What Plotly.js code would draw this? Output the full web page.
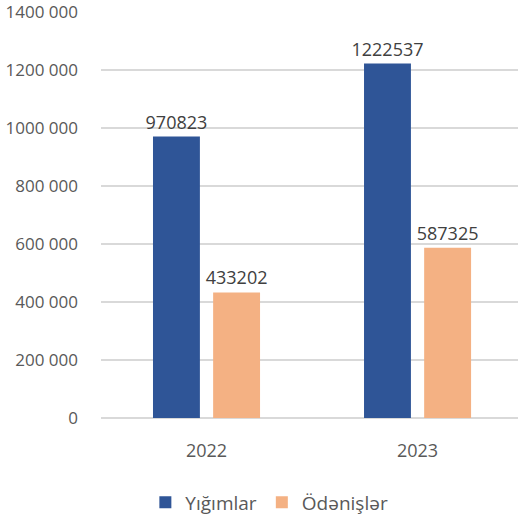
<!DOCTYPE html>
<html>
<head>
<meta charset="utf-8">
<script src="https://cdn.plot.ly/plotly-3.0.1.min.js"></script>
<style>
  html, body { margin: 0; padding: 0; background: #fff; }
  #plot { width: 518px; height: 518px; }
</style>
</head>
<body>
<div id="plot"></div>
<script>
// chart data
let years = ['2022', '2023'];
let yigimlar = [970823, 1222537];
let odenisler = [433202, 587325];
let tickVals = [0, 200000, 400000, 600000, 800000, 1000000, 1200000, 1400000];
let tickText = ['0', '200 000', '400 000', '600 000', '800 000', '1000 000', '1200 000', '1400 000'];

let plot = document.getElementById('plot');

let labelFont = {family: 'Open Sans, sans-serif', size: 18, color: '#404040'};

let yigimTrace = {
    x: years,
    y: yigimlar,
    type: 'bar',
    name: 'Yığımlar',
    marker: {color: '#2F5597'},
    text: yigimlar.map(String),
    textposition: 'outside',
    constraintext: 'none',
    textfont: labelFont,
    cliponaxis: false,
    hoverinfo: 'none'
};

let odenisTrace = {
    x: years,
    y: odenisler,
    type: 'bar',
    name: 'Ödənişlər',
    marker: {color: '#F4B183'},
    text: odenisler.map(String),
    textposition: 'outside',
    constraintext: 'none',
    textfont: labelFont,
    cliponaxis: false,
    hoverinfo: 'none'
};

let layout = {
    width: 518,
    height: 518,
    margin: {l: 101, r: 0, t: 12, b: 100},
    paper_bgcolor: '#ffffff',
    plot_bgcolor: '#ffffff',
    font: {family: 'Open Sans, sans-serif', size: 17, color: '#595959'},
    barmode: 'group',
    bargap: 0.43,
    bargroupgap: 0.22,
    showlegend: true,
    legend: {
        orientation: 'h',
        xref: 'container',
        yref: 'container',
        x: 0.52,
        y: 0.03,
        xanchor: 'center',
        yanchor: 'middle',
        font: {size: 19, color: '#595959'},
        itemwidth: 30
    },
    xaxis: {
        type: 'category',
        range: [-0.5, 1.476],
        showgrid: false,
        showline: false,
        zeroline: false,
        ticks: '',
        ticklabelstandoff: 20,
        tickfont: {size: 18, color: '#595959'}
    },
    yaxis: {
        range: [0, 1400400],
        tickmode: 'array',
        tickvals: tickVals,
        ticktext: tickText,
        showgrid: true,
        gridcolor: '#d9d9d9',
        gridwidth: 1.5,
        zeroline: true,
        zerolinecolor: '#d9d9d9',
        zerolinewidth: 2,
        showline: false,
        ticks: '',
        ticklabelstandoff: 22,
        tickfont: {size: 17, color: '#595959'}
    }
};

Plotly.newPlot(plot, [yigimTrace, odenisTrace], layout, {displayModeBar: false, staticPlot: true});
</script>
</body>
</html>
